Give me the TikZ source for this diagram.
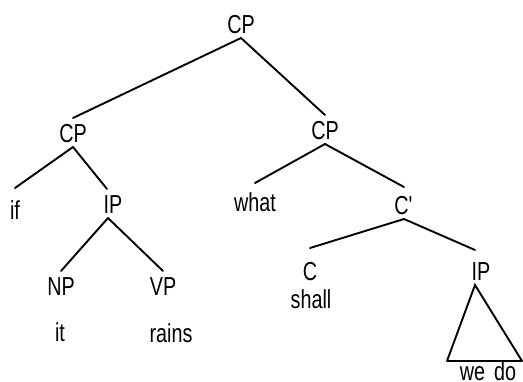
\documentclass[tikz,border=0pt]{standalone}
\usepackage{fontspec}
\setmainfont[FakeStretch=0.76]{Liberation Sans}
\begin{document}
\begin{tikzpicture}[x=1pt,y=-1pt,
  lab/.style={font=\fontsize{26}{30}\selectfont, inner sep=0pt, outer ysep=5pt,
    text height=19pt, text depth=0pt, anchor=base},
  edge/.style={line width=1.9pt, line cap=round},
  base/.style={line width=2.8pt}]
\useasboundingbox (0,0) rectangle (523,381);
\node[lab] (cp0) at (241,33) {CP};
\node[lab] (cp1) at (73,142) {CP};
\node[lab] (cp2) at (325,139) {CP};
\node[lab] (if) at (15,219) {if};
\node[lab] (ip1) at (113,213) {IP};
\node[lab] (what) at (255,211) {what};
\node[lab] (cbar) at (404,214) {C\textquotesingle};
\node[lab] (np) at (61,295) {NP};
\node[lab] (vp) at (163,295) {VP};
\node[lab] (it) at (60,341) {it};
\node[lab] (rains) at (171,342) {rains};
\node[lab] (c) at (310,280) {C};
\node[lab] (shall) at (311,308) {shall};
\node[lab] (ip2) at (481,280) {IP};
\node[lab, outer ysep=0pt, text height=14pt] (wedo) at (488,380.5) {we\hspace{9pt}do};
\draw[edge] (cp0.south) -- (cp1.north);
\draw[edge] (cp0.south) -- (cp2.north);
\draw[edge] (cp1.south) -- ([yshift=7pt]if.north);
\draw[edge] (cp1.south) -- ([xshift=-6pt]ip1.north);
\draw[edge] ([xshift=-5pt]ip1.south) -- (np.north);
\draw[edge] ([xshift=-5pt]ip1.south) -- (vp.north);
\draw[edge] (cp2.south) -- ([yshift=4pt]what.north);
\draw[edge] (cp2.south) -- ([yshift=3pt]cbar.north);
\draw[edge] (cbar.south) -- ([yshift=8pt]c.north);
\draw[edge] (cbar.south) -- ([xshift=-6pt,yshift=6pt]ip2.north);
\coordinate (apex) at ([xshift=-6pt]ip2.south);
\coordinate (tl) at (447,361);
\coordinate (tr) at (522,361);
\draw[edge] (tl) -- (apex) -- (tr);
\draw[base] (tl) -- (tr);
\end{tikzpicture}
\end{document}
